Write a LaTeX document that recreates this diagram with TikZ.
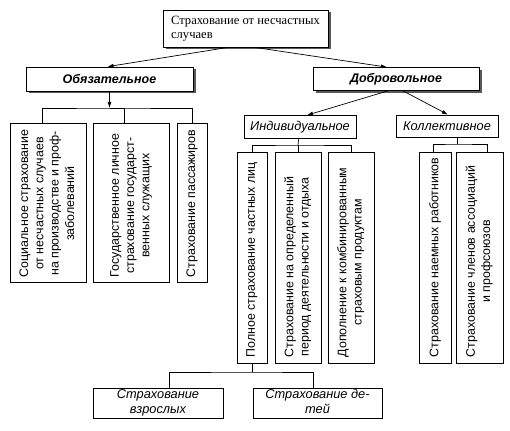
\documentclass[tikz,border=0pt]{standalone}
\usepackage{fontspec}
\setmainfont{Liberation Serif}
\setsansfont{Liberation Sans}
\usetikzlibrary{arrows.meta,shadows}
\newcommand{\stack}[1]{%
  \begin{tabular}{@{}c@{}}
    #1
  \end{tabular}
}
\newcommand{\lstack}[1]{%
  \begin{tabular}{@{}l@{}}
    #1
  \end{tabular}
}

\begin{document}
\begin{tikzpicture}[
      x=1pt, y=-1pt,
      every node/.style={inner sep=0pt,font=\sffamily\fontsize{12.4}{15.3}\selectfont},
      box/.style={draw,line width=0.7pt,fill=white},
      shadowbox/.style={box,drop shadow={shadow xshift=2.5pt,shadow yshift=-2.5pt,fill=black!65,opacity=1}},
      headfont/.style={font=\sffamily\bfseries\itshape\fontsize{12.5}{15}\selectfont},
      subfont/.style={font=\sffamily\itshape\fontsize{12.8}{15}\selectfont},
      vlabel/.style={rotate=90,anchor=west},
      arr/.style={-{Latex[length=6pt,width=4pt]}},
      link/.style={line width=0.7pt}
    ]
      \useasboundingbox (0,0) rectangle (510,430);
      % top level
      \node[shadowbox,minimum width=165pt,minimum height=37pt,font=\rmfamily\fontsize{12.6}{14.7}\selectfont] (top) at (245.5,28.5)
        {\lstack{Страхование от несчастных\\ случаев}};
      \node[shadowbox,headfont,minimum width=167pt,minimum height=24pt] (obyaz) at (109.5,79) {Обязательное};
      \node[shadowbox,headfont,minimum width=166pt,minimum height=23pt] (dobr) at (396,79) {Добровольное};
      \draw[link,arr] ([xshift=-17pt]top.south) -- ([xshift=-2pt]obyaz.north);
      \draw[link,arr] ([xshift=9pt]top.south) -- ([xshift=-9pt]dobr.north);

      % obligatory
      \node[box,minimum width=76pt,minimum height=159pt] (soc) at (48,202.5) {};
      \node[box,minimum width=76pt,minimum height=159pt] (gos) at (131,202.5) {};
      \node[box,minimum width=30pt,minimum height=159pt] (pass) at (192,202.5) {};
      \node[vlabel] (soctext) at ([yshift=5pt]soc.south)
        {\stack{Социальное страхование\\ от несчастных случаев\\ на производстве и проф-\\ заболеваний}};
      \node[vlabel] (gostext) at ([yshift=5pt]gos.south)
        {\stack{Государственное личное\\ страхование государст-\\ венных служащих}};
      \node[vlabel] (passtext) at ([yshift=5pt]pass.south) {Страхование пассажиров};
      \coordinate (objoin) at (109.5,108);
      \draw[link,arr] (obyaz) -- (objoin);
      \draw[link] ([xshift=-6pt]soc.north) |- (objoin) -| (pass.north);
      \draw[link] ([xshift=-7pt]gos.north) |- (objoin);

      % voluntary
      \node[box,subfont,minimum width=112pt,minimum height=23pt] (indiv) at (300,127) {Индивидуальное};
      \node[box,subfont,minimum width=102pt,minimum height=22pt] (koll) at (447,126) {Коллективное};
      \draw[link,arr] ([xshift=-8pt]dobr.south) -- ([xshift=7pt]indiv.north);
      \draw[link,arr] ([xshift=7pt]dobr.south) -- ([xshift=1pt]koll.north);

      \node[box,minimum width=30pt,minimum height=211pt] (full) at (252,257.5) {};
      \node[box,minimum width=46pt,minimum height=211pt] (period) at (298,257.5) {};
      \node[box,minimum width=46pt,minimum height=211pt] (combo) at (351,257.5) {};
      \node[vlabel] (fulltext) at ([yshift=6pt]full.south) {Полное страхование частных лиц};
      \node[vlabel] (periodtext) at ([yshift=6pt]period.south)
        {\stack{Страхование на определенный\\ период деятельности и отдыха}};
      \node[vlabel] (combotext) at ([yshift=6pt]combo.south)
        {\stack{Дополнение к комбинированным\\ страховым продуктам}};
      \coordinate (injoin) at (298,145);
      \draw[link] (indiv) -- (injoin);
      \draw[link] (full.north) |- (injoin) -| (combo.north);
      \draw[link] (period.north) -- (injoin);

      \node[box,minimum width=32pt,minimum height=211pt] (hired) at (435,257.5) {};
      \node[box,minimum width=47pt,minimum height=211pt] (union) at (479.5,257.5) {};
      \node[vlabel] (hiredtext) at ([yshift=6pt]hired.south) {Страхование наемных работников};
      \node[vlabel] (uniontext) at ([yshift=6pt]union.south)
        {\stack{Страхование членов ассоциаций\\ и профсоюзов}};
      \coordinate (kojoin) at (457,144);
      \draw[link] ([xshift=10pt]koll.south) -- (kojoin);
      \draw[link] ([xshift=-2pt]hired.north) |- (kojoin) -| ([xshift=7.5pt]union.north);

      % full cover
      \node[box,subfont,minimum width=130pt,minimum height=30pt] (adult) at (158,403)
        {\stack{Страхование\\ взрослых}};
      \node[box,subfont,minimum width=129pt,minimum height=30pt] (child) at (317.5,403)
        {\stack{Страхование де-\\ тей}};
      \coordinate (pojoin) at (252,372);
      \draw[link] (full.south) -- (pojoin);
      \draw[link] ([xshift=11pt]adult.north) |- (pojoin) -| ([xshift=-4pt]child.north);
    \end{tikzpicture}
\end{document}
